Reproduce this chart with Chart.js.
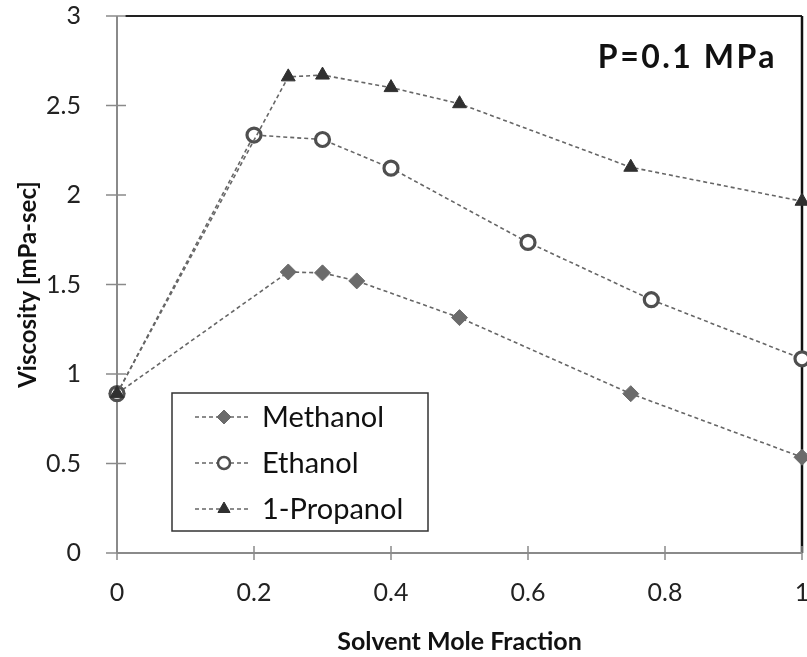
<!DOCTYPE html>
<html>
<head>
<meta charset="utf-8">
<script src="https://cdn.jsdelivr.net/npm/chart.js@4.4.1/dist/chart.umd.min.js"></script>
<style>
  html, body { margin: 0; padding: 0; background: #fff; }
  #wrap { width: 807px; height: 657px; position: relative; }
</style>
</head>
<body>
<div id="wrap"><canvas id="c" width="807" height="657"></canvas></div>
<script>
// Viscosity of solvent mixtures at P = 0.1 MPa
const methanolX = [0, 0.25, 0.30, 0.35, 0.50, 0.75, 1.00];
const methanolY = [0.89, 1.57, 1.565, 1.52, 1.315, 0.89, 0.535];
const ethanolX  = [0, 0.20, 0.30, 0.40, 0.60, 0.78, 1.00];
const ethanolY  = [0.89, 2.335, 2.31, 2.15, 1.735, 1.415, 1.085];
const propanolX = [0, 0.25, 0.30, 0.40, 0.50, 0.75, 1.00];
const propanolY = [0.89, 2.66, 2.67, 2.60, 2.51, 2.155, 1.965];
const seriesNames = ['Methanol', 'Ethanol', '1-Propanol'];
const xTicks = [0, 0.2, 0.4, 0.6, 0.8, 1];
const yTicks = [0, 0.5, 1, 1.5, 2, 2.5, 3];
const pressureLabel = 'P=0.1 MPa';

const FONT = 'Lato, "Open Sans", sans-serif';

const toPoints = (xs, ys) => xs.map((x, i) => ({ x, y: ys[i] }));

const styles = [
  { pointStyle: 'rectRot', radius: 8, bg: '#6b6b6b', border: '#6b6b6b', bw: 1 },
  { pointStyle: 'circle', radius: 7, bg: '#ffffff', border: '#4f4f4f', bw: 3.2 },
  { pointStyle: 'triangle', radius: 8, bg: '#303030', border: '#303030', bw: 1 }
];

// later series are painted on top (lower order = drawn last)
const makeSet = (label, pts, s, order) => ({
  label,
  data: pts,
  order,
  showLine: true,
  borderColor: '#666666',
  borderWidth: 1.6,
  borderDash: [4, 3],
  pointStyle: s.pointStyle,
  pointRadius: s.radius,
  pointBackgroundColor: s.bg,
  pointBorderColor: s.border,
  pointBorderWidth: s.bw,
  clip: false
});

// Axis lines, crossing tick marks, frame, x tick labels and the pressure label
const framePlugin = {
  id: 'framePlugin',
  beforeDatasetsDraw(chart) {
    const { ctx, chartArea: a, scales: { x, y } } = chart;
    ctx.save();
    ctx.strokeStyle = '#222';
    ctx.lineWidth = 2;
    ctx.beginPath();
    ctx.moveTo(a.left + 8, a.top);
    ctx.lineTo(a.right, a.top);
    ctx.stroke();
    ctx.lineWidth = 2.5;
    ctx.strokeStyle = '#111';
    ctx.beginPath();
    ctx.moveTo(a.right, a.top);
    ctx.lineTo(a.right, a.bottom);
    ctx.stroke();
    ctx.strokeStyle = '#8a8a8a';
    ctx.lineWidth = 2;
    ctx.beginPath();
    ctx.moveTo(a.left, a.top);
    ctx.lineTo(a.left, a.bottom);
    ctx.moveTo(a.left, a.bottom);
    ctx.lineTo(a.right, a.bottom);
    ctx.stroke();
    ctx.lineWidth = 1.5;
    ctx.beginPath();
    yTicks.forEach(v => {
      const py = y.getPixelForValue(v);
      ctx.moveTo(a.left - 11, py);
      ctx.lineTo(a.left + 9, py);
    });
    xTicks.forEach(v => {
      const px = x.getPixelForValue(v);
      ctx.moveTo(px, a.bottom - 7);
      ctx.lineTo(px, a.bottom + 7);
    });
    ctx.stroke();
    ctx.restore();
  },
  afterDraw(chart) {
    const { ctx, chartArea: a, scales: { x } } = chart;
    ctx.save();
    ctx.fillStyle = '#222';
    ctx.font = '25px ' + FONT;
    ctx.textAlign = 'center';
    ctx.textBaseline = 'alphabetic';
    xTicks.forEach(v => {
      ctx.fillText(String(v), x.getPixelForValue(v), a.bottom + 48);
    });
    ctx.fillStyle = '#111';
    ctx.font = 'bold 32px ' + FONT;
    ctx.letterSpacing = '2.5px';
    ctx.textAlign = 'right';
    ctx.fillText(pressureLabel, a.right - 25, a.top + 52);
    ctx.restore();
  }
};

// Boxed legend placed inside the plot area
const innerLegend = {
  id: 'innerLegend',
  afterDraw(chart) {
    const { ctx } = chart;
    const box = { l: 172, t: 393, w: 256, h: 138 };
    ctx.save();
    ctx.fillStyle = '#fff';
    ctx.fillRect(box.l, box.t, box.w, box.h);
    ctx.strokeStyle = '#333';
    ctx.lineWidth = 1.5;
    ctx.strokeRect(box.l, box.t, box.w, box.h);
    chart.data.datasets.forEach((ds, i) => {
      const cy = box.t + 24 + i * 46;
      ctx.strokeStyle = '#666';
      ctx.lineWidth = 1.6;
      ctx.setLineDash([4, 3]);
      ctx.beginPath();
      ctx.moveTo(box.l + 23, cy);
      ctx.lineTo(box.l + 78, cy);
      ctx.stroke();
      ctx.setLineDash([]);
      ctx.fillStyle = ds.pointBackgroundColor;
      ctx.strokeStyle = ds.pointBorderColor;
      ctx.lineWidth = ds.pointStyle === 'circle' ? 2.5 : ds.pointBorderWidth;
      Chart.helpers.drawPoint(ctx, {
        pointStyle: ds.pointStyle,
        radius: ds.pointStyle === 'circle' ? 6 : 7,
        borderWidth: ctx.lineWidth,
        rotation: 0
      }, box.l + 52, cy);
      ctx.fillStyle = '#111';
      ctx.font = '29px ' + FONT;
      ctx.textAlign = 'left';
      ctx.textBaseline = 'middle';
      ctx.fillText(ds.label, box.l + 90, cy + 1);
    });
    ctx.restore();
  }
};

new Chart(document.getElementById('c'), {
  type: 'scatter',
  data: {
    datasets: [
      makeSet(seriesNames[0], toPoints(methanolX, methanolY), styles[0], 2),
      makeSet(seriesNames[1], toPoints(ethanolX, ethanolY), styles[1], 1),
      makeSet(seriesNames[2], toPoints(propanolX, propanolY), styles[2], 0)
    ]
  },
  options: {
    responsive: false,
    devicePixelRatio: 1,
    animation: false,
    layout: { autoPadding: false, padding: { top: 16, right: 5, left: 0, bottom: 0 } },
    plugins: { legend: { display: false }, tooltip: { enabled: false } },
    scales: {
      x: {
        type: 'linear',
        min: 0, max: 1,
        afterBuildTicks: s => { s.ticks = xTicks.map(v => ({ value: v })); },
        afterFit: s => { s.height = 104; s.paddingLeft = 0; s.paddingRight = 0; },
        grid: { display: false },
        border: { display: false },
        ticks: { display: false },
        title: {
          display: true,
          text: 'Solvent Mole Fraction',
          color: '#111',
          font: { family: FONT, size: 25, weight: 'bold' },
          padding: { top: 0, bottom: 0 }
        }
      },
      y: {
        type: 'linear',
        min: 0, max: 3,
        afterBuildTicks: s => { s.ticks = yTicks.map(v => ({ value: v })); },
        afterFit: s => { s.width = 117; s.paddingTop = 0; s.paddingBottom = 0; },
        grid: { display: false },
        border: { display: false },
        ticks: {
          padding: 28,
          color: '#222',
          font: { family: FONT, size: 25 },
          callback: v => String(v)
        },
        title: {
          display: true,
          text: 'Viscosity [mPa-sec]',
          color: '#111',
          font: { family: FONT, size: 24, weight: 'bold' },
          padding: { top: 14, bottom: 0 }
        }
      }
    }
  },
  plugins: [framePlugin, innerLegend]
});
</script>
</body>
</html>
